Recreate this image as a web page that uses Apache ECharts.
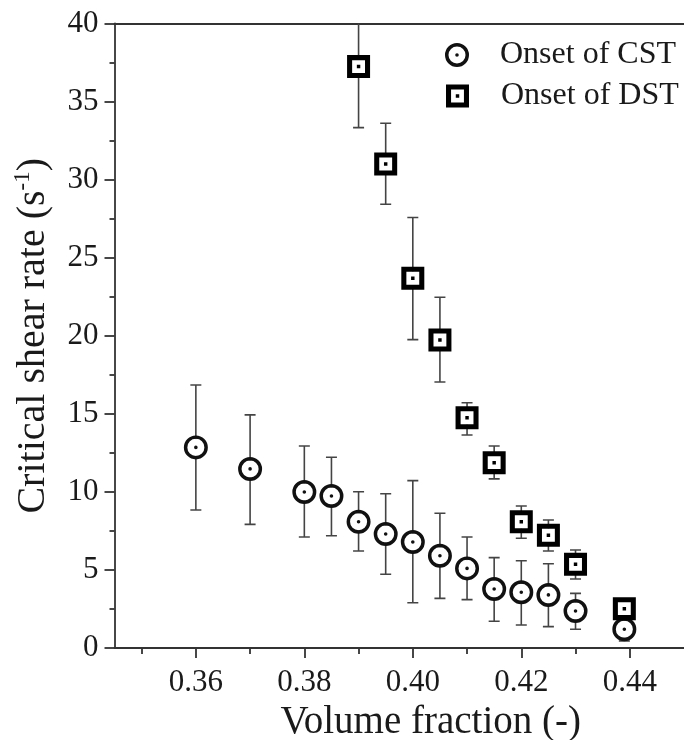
<!DOCTYPE html>
<html>
<head>
<meta charset="utf-8">
<script src="https://cdn.jsdelivr.net/npm/echarts@6/dist/echarts.min.js"></script>
<style>
  html, body { margin: 0; padding: 0; background: #fff; }
  #chart { width: 684px; height: 740px; }
</style>
</head>
<body>
<div id="chart"></div>
<script>
// Onset of continuous shear thickening (CST)
var cstPhi  = [0.36, 0.37, 0.38, 0.385, 0.39, 0.395, 0.40, 0.405, 0.41, 0.415, 0.42, 0.425, 0.43, 0.439];
var cstRate = [12.85, 11.47, 9.99, 9.74, 8.09, 7.30, 6.79, 5.91, 5.10, 3.78, 3.57, 3.40, 2.37, 1.20];
var cstHigh = [16.85, 14.93, 12.94, 12.22, 10.01, 9.88, 10.72, 8.63, 7.11, 5.79, 5.59, 5.40, 3.50, 1.95];
var cstLow  = [8.84, 7.92, 7.11, 7.19, 6.21, 4.72, 2.90, 3.18, 3.10, 1.71, 1.47, 1.37, 1.20, 0.45];

// Onset of discontinuous shear thickening (DST)
var dstPhi  = [0.39, 0.395, 0.40, 0.405, 0.41, 0.415, 0.42, 0.425, 0.43, 0.439];
var dstRate = [37.24, 31.0, 23.68, 19.73, 14.75, 11.87, 8.09, 7.22, 5.36, 2.52];
var dstHigh = [41.15, 33.61, 27.57, 22.47, 15.71, 12.94, 9.10, 8.20, 6.28, 2.90];
var dstLow  = [33.33, 28.42, 19.75, 17.04, 13.64, 10.83, 7.03, 6.21, 4.42, 2.10];

// Axis ticks
var xMajorTicks = [0.36, 0.38, 0.40, 0.42, 0.44];
var xMinorTicks = [0.35, 0.37, 0.39, 0.41, 0.43];

var FONT = '"Liberation Serif", "Times New Roman", serif';
var INK = '#1a1a1a';
var AXIS = '#333';

// ring with a centre dot, and a thick square frame with a centre dot
var ringPath = 'path://M-10 0A10 10 0 1 1 10 0A10 10 0 1 1 -10 0Z' +
               'M-7.1 0A7.1 7.1 0 1 0 7.1 0A7.1 7.1 0 1 0 -7.1 0Z' +
               'M-1.5 0A1.5 1.5 0 1 1 1.5 0A1.5 1.5 0 1 1 -1.5 0Z';
var squarePath = 'path://M-10 -10L10 -10L10 10L-10 10Z' +
                 'M-5.6 -5.6L-5.6 5.6L5.6 5.6L5.6 -5.6Z' +
                 'M-1.5 -1.5L1.5 -1.5L1.5 1.5L-1.5 1.5Z';

function toPoints(xs, ys) { return xs.map(function (x, i) { return [x, ys[i]]; }); }
function toBars(xs, lo, hi) { return xs.map(function (x, i) { return [x, lo[i], hi[i]]; }); }

function renderErrorBar(params, api) {
  var x = api.value(0);
  var pLo = api.coord([x, api.value(1)]);
  var pHi = api.coord([x, api.value(2)]);
  var cap = 5.5;
  var style = { stroke: '#444', lineWidth: 1.6 };
  return {
    type: 'group',
    children: [
      { type: 'line', shape: { x1: pLo[0], y1: pLo[1], x2: pHi[0], y2: pHi[1] }, style: style },
      { type: 'line', shape: { x1: pHi[0] - cap, y1: pHi[1], x2: pHi[0] + cap, y2: pHi[1] }, style: style },
      { type: 'line', shape: { x1: pLo[0] - cap, y1: pLo[1], x2: pLo[0] + cap, y2: pLo[1] }, style: style }
    ]
  };
}

var chart = echarts.init(document.getElementById('chart'), null, { renderer: 'canvas' });

var option = {
  animation: false,
  backgroundColor: '#fff',
  grid: { left: 114.5, right: 0, top: 23.5, bottom: 92, outerBoundsMode: 'none', containLabel: false },
  legend: [
    {
      left: 440, top: 30, itemWidth: 24, itemHeight: 24, selectedMode: false,
      data: [{ name: 'Onset of CST', icon: ringPath }],
      textStyle: { fontFamily: FONT, fontSize: 32, color: INK, lineHeight: 40, padding: [0, 0, 0, 26] }
    },
    {
      left: 441, top: 71, itemWidth: 23, itemHeight: 23, selectedMode: false,
      data: [{ name: 'Onset of DST', icon: squarePath }],
      textStyle: { fontFamily: FONT, fontSize: 32, color: INK, lineHeight: 40, padding: [0, 0, 0, 27] }
    }
  ],
  xAxis: [
    {
      type: 'value', position: 'bottom', min: 0.345, max: 0.45,
      name: 'Volume fraction (-)', nameLocation: 'middle', nameGap: 44,
      nameTextStyle: { fontFamily: FONT, fontSize: 39, color: INK, padding: [0, 0, 0, 63] },
      axisLine: { show: true, lineStyle: { color: AXIS, width: 1.8 } },
      axisTick: { show: true, inside: false, length: 10, customValues: xMajorTicks, lineStyle: { color: AXIS, width: 1.8 } },
      axisLabel: {
        show: true, margin: 19, customValues: xMajorTicks,
        fontFamily: FONT, fontSize: 31, color: INK,
        formatter: function (v) { return v.toFixed(2); }
      },
      splitLine: { show: false }
    },
    {
      type: 'value', position: 'bottom', min: 0.345, max: 0.45,
      axisLine: { show: false },
      axisTick: { show: true, inside: false, length: 6, customValues: xMinorTicks, lineStyle: { color: AXIS, width: 1.8 } },
      axisLabel: { show: false },
      splitLine: { show: false }
    },
    {
      type: 'value', position: 'top', min: 0.345, max: 0.45,
      axisLine: { show: true, lineStyle: { color: AXIS, width: 1.8 } },
      axisTick: { show: false },
      axisLabel: { show: false },
      splitLine: { show: false }
    }
  ],
  yAxis: {
    type: 'value', min: 0, max: 40, interval: 5,
    name: '{t|Critical shear rate (s}{sup|-1}{t|)}',
    nameLocation: 'middle', nameGap: 59,
    nameTextStyle: {
      color: INK,
      rich: {
        t: { fontFamily: FONT, fontSize: 40, color: INK, lineHeight: 44 },
        sup: { fontFamily: FONT, fontSize: 23, color: INK, lineHeight: 23, verticalAlign: 'top' }
      }
    },
    axisLine: { show: true, lineStyle: { color: AXIS, width: 1.8 } },
    axisTick: { show: true, inside: false, length: 10, lineStyle: { color: AXIS, width: 1.8 } },
    minorTick: { show: true, splitNumber: 2, length: 5, lineStyle: { color: AXIS, width: 1.8 } },
    axisLabel: { margin: 16, fontFamily: FONT, fontSize: 31, color: INK },
    splitLine: { show: false },
    minorSplitLine: { show: false }
  },
  series: [
    {
      name: 'cst-bars', type: 'custom', xAxisIndex: 0, clip: true, z: 1,
      renderItem: renderErrorBar, encode: { x: 0, y: [1, 2] },
      data: toBars(cstPhi, cstLow, cstHigh), silent: true
    },
    {
      name: 'dst-bars', type: 'custom', xAxisIndex: 0, clip: true, z: 1,
      renderItem: renderErrorBar, encode: { x: 0, y: [1, 2] },
      data: toBars(dstPhi, dstLow, dstHigh), silent: true
    },
    {
      name: 'cst-fill', type: 'scatter', xAxisIndex: 0, z: 2, silent: true,
      symbol: 'circle', symbolSize: 17, itemStyle: { color: '#fff', opacity: 1 },
      data: toPoints(cstPhi, cstRate)
    },
    {
      name: 'dst-fill', type: 'scatter', xAxisIndex: 0, z: 2, silent: true,
      symbol: 'rect', symbolSize: 14, itemStyle: { color: '#fff', opacity: 1 },
      data: toPoints(dstPhi, dstRate)
    },
    {
      name: 'Onset of CST', type: 'scatter', xAxisIndex: 0, z: 3,
      symbol: ringPath, symbolSize: 24, itemStyle: { color: '#111', opacity: 1 },
      data: toPoints(cstPhi, cstRate)
    },
    {
      name: 'Onset of DST', type: 'scatter', xAxisIndex: 0, z: 3,
      symbol: squarePath, symbolSize: 23, itemStyle: { color: '#000', opacity: 1 },
      data: toPoints(dstPhi, dstRate)
    }
  ]
};

chart.setOption(option);
</script>
</body>
</html>
